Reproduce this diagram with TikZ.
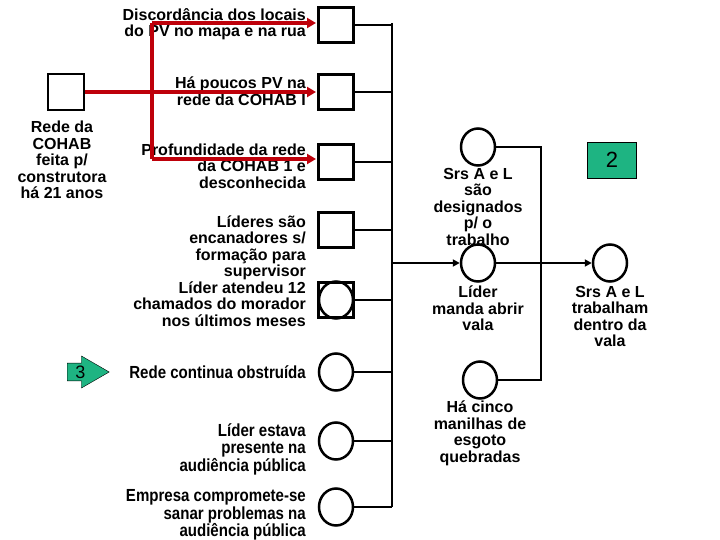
\documentclass[tikz,border=0pt]{standalone}
\usepackage{fontspec}
\setmainfont{Liberation Sans}
\newfontfamily\narrowf[FakeStretch=0.86]{Liberation Sans}
\usetikzlibrary{arrows.meta,shapes.geometric,shapes.arrows}
\definecolor{dred}{RGB}{190,0,10}
\definecolor{tgreen}{RGB}{30,180,130}
\begin{document}
\begin{tikzpicture}[x=1pt,y=-1pt,
  sq/.style={draw,line width=2.5pt,minimum size=35pt,inner sep=0pt},
  ci/.style={draw,line width=2.5pt,ellipse,minimum width=34pt,minimum height=37pt,inner sep=0pt},
  ln/.style={line width=2.5pt},
  rd/.style={line width=3.5pt,dred,-{Triangle[length=9pt,width=10pt]}},
  tx/.style={font=\bfseries\fontsize{16}{16.5}\selectfont,align=right,anchor=east,inner sep=0pt},
  txn/.style={font=\narrowf\bfseries\fontsize{17.5}{17.5}\selectfont,align=right,anchor=east,inner sep=0pt},
  txc/.style={font=\bfseries\fontsize{16}{16.5}\selectfont,align=center,inner sep=0pt}]
\useasboundingbox (0,0) rectangle (720,540);
% left column
\node[sq] (b1) at (336,25) {};
\node[sq] (b2) at (336,92) {};
\node[sq] (b3) at (336,162) {};
\node[sq] (b4) at (336,230) {};
\node[sq] (b5) at (336,300) {};
\node[ci] (c5) at (336,300) {};
\node[ci] (c6) at (336,372) {};
\node[ci] (c7) at (336,441) {};
\node[ci] (c8) at (336,507) {};
\coordinate (bt) at (392,23);
\coordinate (bb) at (392,507);
\draw[ln] (bt) -- (bb);
\foreach \n in {b1,b2,b3,b4,c5,c6,c7,c8} \draw[ln] (\n.east) -- (\n.east -| bt);
% texts
\node[tx] (t1) at (306,24) {Discordância dos locais\\do PV no mapa e na rua};
\node[tx] (t2) at (306,91) {Há poucos PV na\\rede da COHAB I};
\node[tx] (t3) at (306,166) {Profundidade da rede\\da COHAB 1 e\\desconhecida};
\node[tx] (t4) at (306,271) {Líderes são\\encanadores s/\\formação para\\supervisor\\Líder atendeu 12\\chamados do morador\\nos últimos meses};
\node[txn] (t6) at (306,372) {Rede continua obstruída};
\node[txn] (t7) at (306,449) {Líder estava\\presente na\\audiência pública};
\node[txn] (t8) at (306,515) {Empresa compromete-se\\sanar problemas na\\audiência pública};
% left box
\node[sq,minimum size=36pt] (b0) at (66,92) {};
\node[txc] (t0) at (62,160) {Rede da\\COHAB\\feita p/\\construtora\\há 21 anos};
% red arrows
\coordinate (r1) at (152,23);
\coordinate (r3) at (152,159);
\draw[line width=3.5pt,dred] (r1) -- (r3);
\draw[rd] (b0.east) -- (316,92);
\draw[rd] (r1) -- (316,23);
\draw[rd] (r3) -- (316,159);
% green arrow 3
\node[draw,fill=tgreen,single arrow,single arrow head extend=6pt,single arrow tip angle=60,minimum height=42pt,minimum width=32pt,inner sep=1pt,font=\fontsize{18}{18}\selectfont,anchor=west] (g3) at (67,372) {3\hspace{16pt}};
% right part
\node[ci] (d1) at (478,147) {};
\node[ci] (d2) at (478,263) {};
\node[ci] (d3) at (480,380) {};
\node[ci] (d4) at (610,263) {};
\node[txc,anchor=north] (u1) at (478,168) {Srs A e L\\são\\designados\\p/ o\\trabalho};
\node[txc,anchor=north] (u2) at (478,286) {Líder\\manda abrir\\vala};
\node[txc,anchor=north] (u3) at (480,401) {Há cinco\\manilhas de\\esgoto\\quebradas};
\node[txc,anchor=north] (u4) at (610,286) {Srs A e L\\trabalham\\dentro da\\vala};
\draw[ln,-{Triangle[length=7pt,width=7pt]}] (d2.west -| bt) -- (d2.west);
\draw[ln,-{Triangle[length=7pt,width=7pt]}] (d2.east) -- (d4.west);
\coordinate (k1) at (541,147);
\coordinate (k2) at (541,380);
\draw[ln] (d1.east) -- (k1) -- (k2) -- (d3.east);
\node[draw,fill=tgreen,minimum width=49pt,minimum height=36pt,font=\fontsize{22}{22}\selectfont] (n2) at (612,160) {2};
\end{tikzpicture}
\end{document}
